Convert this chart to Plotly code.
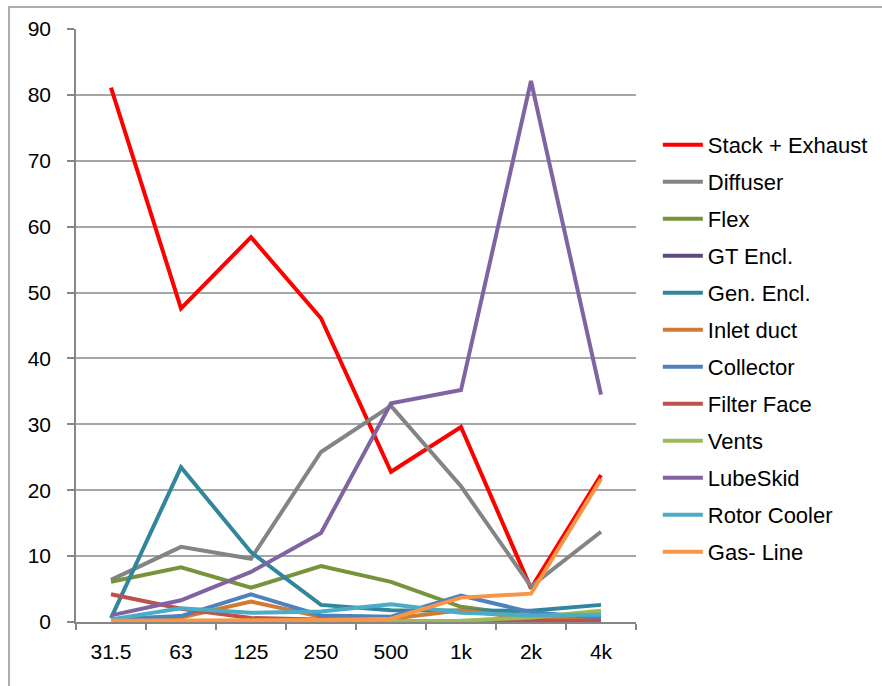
import plotly.graph_objects as go

# Octave-band centre frequencies (category axis)
bands = ["31.5", "63", "125", "250", "500", "1k", "2k", "4k"]

# Contribution of each source per band
stack_exhaust = [81.1, 47.6, 58.4, 46.1, 22.8, 29.6, 5.1, 22.3]
diffuser      = [6.4, 11.4, 9.6, 25.8, 32.8, 20.6, 5.4, 13.7]
flex          = [6.1, 8.3, 5.2, 8.5, 6.1, 2.3, 0.9, 1.3]
gt_encl       = [0.1, 0.1, 0.1, 0.1, 0.1, 0.1, 0.1, 0.1]
gen_encl      = [0.6, 23.5, 10.6, 2.6, 1.8, 1.8, 1.7, 2.6]
inlet_duct    = [0.3, 0.7, 3.1, 0.8, 0.5, 1.8, 0.5, 0.4]
collector     = [0.4, 0.9, 4.2, 1.0, 0.8, 4.0, 1.5, 0.6]
filter_face   = [4.2, 2.0, 0.6, 0.3, 0.1, 0.1, 0.1, 0.2]
vents         = [0.1, 0.1, 0.1, 0.1, 0.2, 0.2, 0.7, 1.7]
lube_skid     = [1.0, 3.3, 7.6, 13.5, 33.2, 35.2, 82.1, 34.5]
rotor_cooler  = [0.4, 2.1, 1.4, 1.6, 2.7, 1.4, 1.0, 1.1]
gas_line      = [0.2, 0.2, 0.2, 0.3, 0.5, 3.7, 4.3, 21.7]

series = [
    ("Stack + Exhaust", stack_exhaust, "#FF0000"),
    ("Diffuser", diffuser, "#848484"),
    ("Flex", flex, "#77933C"),
    ("GT Encl.", gt_encl, "#604A7B"),
    ("Gen. Encl.", gen_encl, "#31859C"),
    ("Inlet duct", inlet_duct, "#D07A35"),
    ("Collector", collector, "#4F81BD"),
    ("Filter Face", filter_face, "#C0504D"),
    ("Vents", vents, "#9BBB59"),
    ("LubeSkid", lube_skid, "#8064A2"),
    ("Rotor Cooler", rotor_cooler, "#4BACC6"),
    ("Gas- Line", gas_line, "#F79646"),
]

fig = go.Figure()
for i, (name, vals, color) in enumerate(series):
    fig.add_trace(go.Scatter(
        x=bands, y=vals, name=name, mode="lines",
        line=dict(color=color, width=4),
        legendgroup=f"g{i}",
    ))

font = dict(family="Liberation Sans, Arial, sans-serif", size=21, color="#000000")

fig.update_layout(
    width=882, height=686,
    margin=dict(l=76, r=246, t=29, b=64, autoexpand=False),
    paper_bgcolor="white", plot_bgcolor="white",
    font=font,
    showlegend=True,
    legend=dict(
        x=1.039, xanchor="left", y=0.84, yanchor="top",
        font=dict(family="Liberation Sans, Arial, sans-serif", size=22, color="#000000"),
        tracegroupgap=5.4, itemwidth=40, bgcolor="rgba(0,0,0,0)",
    ),
    xaxis=dict(
        type="category", range=[-0.5, 7.5],
        showline=True, linecolor="#868686", linewidth=1.5,
        ticks="outside", tickson="boundaries", ticklen=6, tickcolor="#868686", tickwidth=1.5,
        showgrid=False, ticklabelstandoff=10,
    ),
    yaxis=dict(
        range=[0, 90], tickvals=list(range(0, 91, 10)),
        showline=True, linecolor="#868686", linewidth=1.5,
        ticks="outside", ticklen=7, tickcolor="#868686", tickwidth=1.5,
        showgrid=True, gridcolor="#A6A6A6", gridwidth=1.5,
        zeroline=False, ticklabelstandoff=12,
    ),
    shapes=[dict(
        type="rect", xref="paper", yref="paper",
        x0=-0.1196, x1=1.6, y0=-0.3, y1=1.037,
        line=dict(color="#ADADAD", width=2), fillcolor="rgba(0,0,0,0)", layer="below",
    )],
)

fig.write_html("out.html")
